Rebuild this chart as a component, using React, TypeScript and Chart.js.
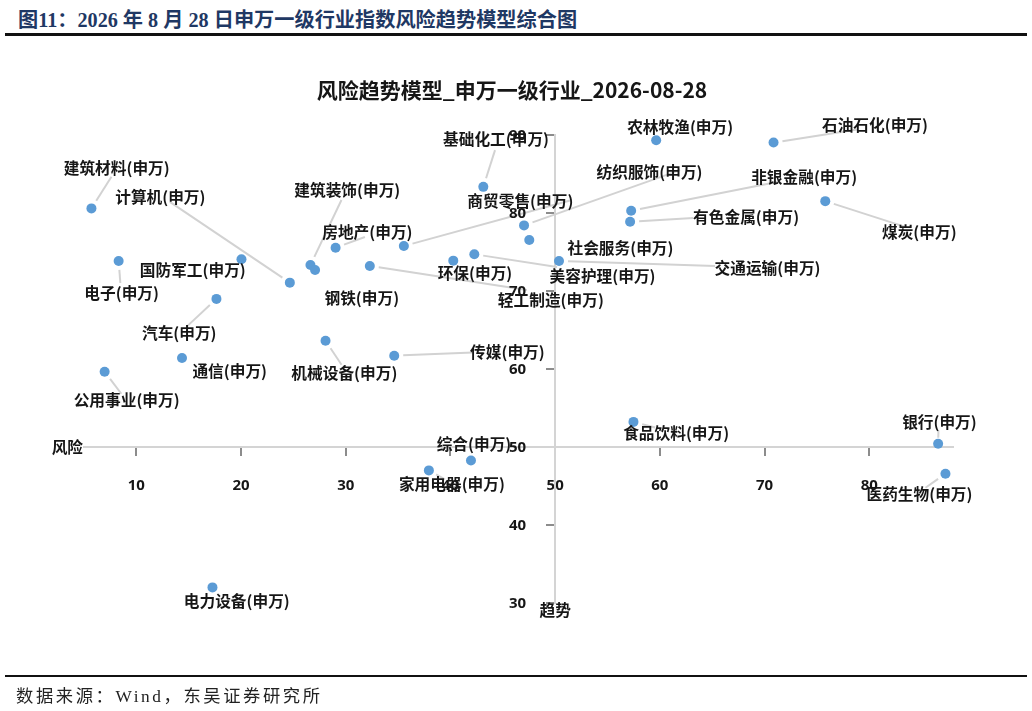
import React, { useEffect, useRef } from 'react';
import { Chart, registerables } from 'chart.js';

Chart.register(...registerables);

// ---- data ----
const industries = [
  '建筑材料', '计算机', '国防军工', '电子', '汽车', '通信', '公用事业', '建筑装饰',
  '房地产', '钢铁', '机械设备', '传媒', '基础化工', '商贸零售', '纺织服饰', '环保',
  '美容护理', '轻工制造', '社会服务', '交通运输', '农林牧渔', '石油石化', '非银金融', '有色金属',
  '煤炭', '食品饮料', '银行', '医药生物', '综合', '家用电器', '电力设备',
];
const labelSuffix = '(申万)';
const riskScores = [
  5.71, 24.66, 20.04, 8.31, 17.65, 14.36, 6.97, 26.63,
  29.03, 27.07, 28.07, 34.63, 43.14, 35.55, 47.03, 40.27,
  42.28, 32.30, 47.53, 50.37, 59.65, 70.86, 57.26, 57.16,
  75.80, 57.48, 86.58, 87.28, 41.96, 37.94, 17.27,
];
const trendScores = [
  80.59, 71.07, 74.07, 73.85, 68.99, 61.41, 59.65, 73.34,
  75.55, 72.70, 63.62, 61.70, 83.35, 75.77, 78.41, 73.89,
  74.71, 73.21, 76.53, 73.85, 89.32, 89.03, 80.28, 78.87,
  81.52, 53.22, 50.41, 46.57, 48.27, 47.00, 32.00,
];
const chartTitle = '风险趋势模型_申万一级行业_2026-08-28';
const xAxisName = '风险';
const yAxisName = '趋势';
const figureTitle = '图11：2026 年 8 月 28 日申万一级行业指数风险趋势模型综合图';
const sourceNote = '数据来源：Wind，东吴证券研究所';

// ---- label layout (pixel offsets from each point: label centre, optional leader end) ----
const labelLayout: number[][] = [
  [25.3, -40.3, 20, -31.6],
  [-129.5, -86, -120, -80.7],
  [-48.7, 10.7],
  [3, 32, 1.7, 22],
  [-37.2, 34, -30, 28],
  [47.7, 12.7],
  [22, 28, 16.7, 22],
  [36.8, -75, 31, -65],
  [31.8, -15.7, 29.3, -10.7],
  [46.7, 28],
  [18.8, 32, 16, 24],
  [113.2, -4, 78.7, -3.3],
  [12.7, -47.7, 11.7, -36.7],
  [116.5, -45, 168, -46],
  [125.5, -53.3, 156, -55.3],
  [21.7, 12.3],
  [128.2, 21.7, 82.7, 12.7],
  [181, 34, 157, 24],
  [91.2, 8],
  [208.5, 7, 156, 5],
  [24, -13],
  [101.4, -17.3, 83.4, -13],
  [173, -33.7, 147, -29],
  [116, -5.2, 63, -3.7],
  [94, 30.5, 80, 25.7],
  [42.7, 11.2, 21.7, 5.7],
  [1.3, -21.3, 0.3, -13.3],
  [-26, 20.2, -20, 14],
  [3, -16],
  [23, 13.5, 16, 9],
  [24.3, 13.7],
];

const LABEL_FONT = 'bold 15.7px "Noto Sans CJK SC", "Noto Sans", sans-serif';
const TICK_FONT_FAMILY = '"Open Sans", "Noto Sans CJK SC", sans-serif';
const TICK_FONT = 'bold 15px ' + TICK_FONT_FAMILY;

const leaderPlugin = {
  id: 'leaderLines',
  beforeDatasetsDraw(chart: any) {
    const ctx = chart.ctx;
    const meta = chart.getDatasetMeta(0);
    ctx.save();
    ctx.strokeStyle = '#d2d2d2';
    ctx.lineWidth = 2;
    meta.data.forEach((el: any, i: number) => {
      const lay = labelLayout[i];
      if (!lay || lay.length < 4) return;
      const d = Math.hypot(lay[2], lay[3]);
      const g = Math.min(9, d * 0.45);
      ctx.beginPath();
      ctx.moveTo(el.x + (lay[2] / d) * g, el.y + (lay[3] / d) * g);
      ctx.lineTo(el.x + lay[2], el.y + lay[3]);
      ctx.stroke();
    });
    ctx.restore();
  },
  afterDatasetsDraw(chart: any) {
    const ctx = chart.ctx;
    const meta = chart.getDatasetMeta(0);
    const xs = chart.scales.x;
    const ys = chart.scales.y;
    ctx.save();
    // y-axis tick labels, left of the centred axis
    ctx.font = TICK_FONT;
    ctx.fillStyle = '#161616';
    ctx.textAlign = 'right';
    ctx.textBaseline = 'middle';
    const axisX = xs.getPixelForValue(50);
    ys.ticks.forEach((t: any) => {
      ctx.fillText(String(t.value), axisX - 29, ys.getPixelForValue(t.value) + 1);
    });
    // point labels
    ctx.font = LABEL_FONT;
    ctx.fillStyle = '#161616';
    ctx.textAlign = 'center';
    meta.data.forEach((el: any, i: number) => {
      const lay = labelLayout[i];
      ctx.fillText(industries[i] + labelSuffix, el.x + lay[0], el.y + lay[1]);
    });
    ctx.textAlign = 'right';
    ctx.fillText(xAxisName, chart.chartArea.left - 1, ys.getPixelForValue(50));
    ctx.textAlign = 'center';
    ctx.fillText(yAxisName, axisX, chart.chartArea.bottom + 7);
    ctx.restore();
  },
};

export default function App() {
  const ref = useRef<HTMLCanvasElement>(null);
  useEffect(() => {
    if (!ref.current) return;
    const chart = new Chart(ref.current, {
      type: 'scatter',
      data: {
        datasets: [
          {
            data: riskScores.map((v, i) => ({ x: v, y: trendScores[i] })),
            backgroundColor: '#5B9BD5',
            borderWidth: 0,
            pointRadius: 5,
            pointHoverRadius: 5,
          },
        ],
      },
      options: {
        animation: false,
        responsive: false,
        events: [],
        layout: { padding: { left: 84, right: 79, top: 135, bottom: 108 } },
        plugins: {
          legend: { display: false },
          tooltip: { enabled: false },
          title: { display: false },
        },
        scales: {
          x: {
            type: 'linear',
            position: { y: 50 } as any,
            min: 5,
            max: 88,
            ticks: {
              stepSize: 10,
              includeBounds: false,
              color: '#161616',
              padding: 22,
              font: { family: TICK_FONT_FAMILY, size: 15, weight: 'bold' },
            },
            grid: { drawOnChartArea: false, tickLength: 8, color: '#8c8c8c', lineWidth: 2 },
            border: { color: '#d4d4d4', width: 2 },
          },
          y: {
            type: 'linear',
            position: { x: 50 } as any,
            min: 30,
            max: 90,
            ticks: {
              stepSize: 10,
              display: false,
            },
            grid: { drawOnChartArea: false, tickLength: 8, color: '#8c8c8c', lineWidth: 2 },
            border: { color: '#d4d4d4', width: 2 },
          },
        },
      },
      plugins: [leaderPlugin],
    });
    return () => chart.destroy();
  }, []);

  return (
    <div style={{ position: 'absolute', left: 0, top: 0, width: 1032, height: 711, background: '#fff', overflow: 'hidden' }}>
      <div
        style={{
          position: 'absolute', left: 18, top: 4, whiteSpace: 'pre', lineHeight: '24px',
          font: 'bold 20.2px "Liberation Serif", "Noto Sans CJK SC", serif', color: '#1F3864',
        }}
      >
        {figureTitle}
      </div>
      <div style={{ position: 'absolute', left: 5, top: 33, width: 1022, height: 2.5, background: '#111' }} />
      <canvas ref={ref} width={1032} height={711} style={{ position: 'absolute', left: 0, top: 0, width: 1032, height: 711 }} />
      <div
        style={{
          position: 'absolute', left: 0, top: 74, width: 1024, textAlign: 'center', whiteSpace: 'nowrap', lineHeight: '28px',
          font: 'bold 21px "Noto Sans CJK SC", "Noto Sans", sans-serif', color: '#161616',
        }}
      >
        {chartTitle}
      </div>
      <div style={{ position: 'absolute', left: 5, top: 675, width: 1022, height: 2, background: '#111' }} />
      <div
        style={{
          position: 'absolute', left: 16, top: 682, whiteSpace: 'nowrap', lineHeight: '22px', letterSpacing: 2.6,
          font: '17.3px "Liberation Serif", "Noto Sans CJK SC", serif', color: '#222',
        }}
      >
        {sourceNote}
      </div>
    </div>
  );
}
